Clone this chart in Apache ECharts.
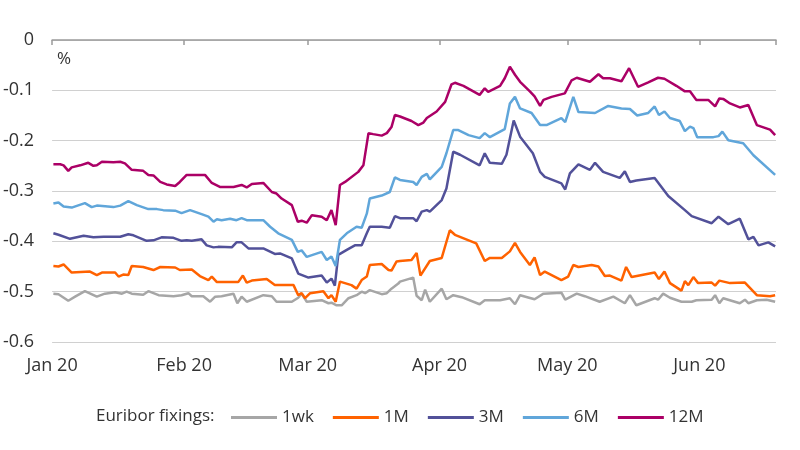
<!DOCTYPE html>
<html>
<head>
<meta charset="utf-8">
<script src="https://cdn.jsdelivr.net/npm/echarts@6/dist/echarts.min.js"></script>
<style>
  html, body { margin: 0; padding: 0; background: #fff; }
  #chart { width: 800px; height: 450px; }
</style>
</head>
<body>
<div id="chart"></div>
<script>
// Euribor fixings 2020, points are [day after 1 Jan 2020, % value]
const seriesNames = ["1wk", "1M", "3M", "6M", "12M"];
const seriesColors = ["#a6a6a6", "#ff6200", "#525199", "#60a6da", "#ab0066"];
const monthNames = ["Jan", "Feb", "Mar", "Apr", "May", "Jun", "Jul"];

const fix1wk = [
  [0.3,-0.504],[1.5,-0.505],[3.8,-0.518],[5.4,-0.51],[7.7,-0.499],[10.5,-0.51],[12.4,-0.504],[14.8,-0.501],
  [16.4,-0.504],[17.5,-0.5],[18.7,-0.504],[21.4,-0.506],[22.6,-0.499],[25.0,-0.507],[28.5,-0.509],[30.4,-0.507],
  [32.0,-0.503],[32.8,-0.509],[35.5,-0.509],[37.1,-0.52],[38.3,-0.51],[39.8,-0.509],[42.6,-0.504],[43.5,-0.523],
  [44.5,-0.51],[45.7,-0.52],[49.6,-0.507],[51.6,-0.509],[52.7,-0.52],[56.3,-0.52],[57.8,-0.512],[58.6,-0.504],
  [59.8,-0.52],[63.3,-0.517],[64.9,-0.523],[65.6,-0.522],[66.8,-0.527],[68.0,-0.527],[69.6,-0.513],[71.5,-0.507],
  [72.7,-0.5],[73.5,-0.503],[74.6,-0.497],[77.4,-0.505],[78.6,-0.503],[79.7,-0.494],[81.3,-0.484],[81.7,-0.48],
  [84.8,-0.472],[85.6,-0.508],[86.8,-0.517],[87.6,-0.496],[88.7,-0.52],[91.5,-0.494],[92.6,-0.515],[94.2,-0.507],
  [96.2,-0.511],[100.4,-0.525],[101.6,-0.517],[105.2,-0.517],[107.5,-0.513],[108.7,-0.525],[109.9,-0.507],[113.3,-0.515],
  [115.4,-0.504],[119.6,-0.502],[120.5,-0.516],[123.2,-0.504],[125.1,-0.509],[128.6,-0.52],[131.8,-0.51],[134.5,-0.523],
  [135.7,-0.507],[137.2,-0.527],[141.5,-0.513],[142.3,-0.516],[143.5,-0.504],[145.1,-0.512],[147.8,-0.52],[150.2,-0.52],
  [151.3,-0.517],[154.9,-0.516],[155.7,-0.507],[156.7,-0.523],[157.6,-0.513],[161.5,-0.523],[162.7,-0.516],[163.5,-0.523],
  [165.5,-0.517],[167.8,-0.516],[169.8,-0.52]
];

const fix1M = [
  [0.3,-0.449],[1.5,-0.45],[2.7,-0.446],[4.6,-0.462],[8.9,-0.46],[10.5,-0.467],[11.7,-0.462],[14.8,-0.462],
  [15.6,-0.47],[16.7,-0.466],[17.9,-0.467],[18.7,-0.449],[21.4,-0.451],[23.8,-0.457],[25.4,-0.451],[28.9,-0.452],
  [30.0,-0.457],[32.8,-0.456],[34.7,-0.469],[36.7,-0.477],[37.5,-0.47],[38.7,-0.481],[43.7,-0.481],[44.8,-0.468],
  [45.7,-0.482],[46.9,-0.478],[50.4,-0.475],[52.3,-0.487],[56.7,-0.487],[57.8,-0.507],[58.6,-0.503],[59.4,-0.513],
  [60.6,-0.503],[63.7,-0.499],[64.9,-0.513],[65.6,-0.507],[66.6,-0.52],[67.6,-0.48],[70.3,-0.487],[71.5,-0.494],
  [72.7,-0.477],[73.9,-0.47],[74.6,-0.447],[77.4,-0.445],[79.0,-0.457],[79.7,-0.458],[80.9,-0.44],[81.7,-0.439],
  [84.4,-0.437],[85.6,-0.423],[86.5,-0.468],[88.7,-0.439],[91.5,-0.433],[93.4,-0.378],[94.6,-0.387],[99.6,-0.404],
  [101.6,-0.439],[102.8,-0.433],[105.6,-0.433],[107.5,-0.42],[108.7,-0.403],[109.9,-0.421],[112.2,-0.447],[113.3,-0.432],
  [114.6,-0.467],[115.7,-0.46],[119.6,-0.477],[121.2,-0.47],[122.4,-0.447],[123.6,-0.451],[126.7,-0.447],[128.3,-0.45],
  [129.8,-0.469],[131.0,-0.468],[133.7,-0.478],[134.8,-0.451],[136.1,-0.471],[141.5,-0.462],[142.5,-0.475],[143.8,-0.46],
  [145.1,-0.483],[147.8,-0.498],[148.6,-0.479],[149.4,-0.487],[150.6,-0.471],[151.7,-0.483],[154.9,-0.482],[155.7,-0.488],
  [156.7,-0.478],[159.2,-0.483],[162.7,-0.482],[165.5,-0.507],[168.6,-0.509],[169.8,-0.507]
];

const fix3M = [
  [0.3,-0.384],[1.5,-0.387],[4.2,-0.395],[7.4,-0.389],[9.7,-0.392],[12.1,-0.391],[13.6,-0.391],[16.0,-0.391],
  [17.9,-0.386],[19.1,-0.388],[22.2,-0.399],[23.8,-0.398],[25.7,-0.392],[28.5,-0.393],[30.4,-0.399],[31.6,-0.398],
  [32.8,-0.399],[35.1,-0.396],[36.3,-0.408],[37.9,-0.412],[39.0,-0.411],[42.2,-0.412],[43.3,-0.402],[44.5,-0.402],
  [46.1,-0.414],[49.6,-0.414],[52.3,-0.425],[53.5,-0.424],[56.3,-0.434],[57.8,-0.464],[60.2,-0.472],[63.3,-0.468],
  [64.5,-0.482],[65.6,-0.474],[66.4,-0.488],[67.2,-0.427],[69.2,-0.417],[71.1,-0.408],[72.7,-0.408],[73.9,-0.384],
  [74.6,-0.371],[77.4,-0.371],[79.3,-0.373],[80.5,-0.35],[81.7,-0.354],[84.8,-0.354],[85.6,-0.36],[86.8,-0.341],
  [88.0,-0.338],[88.7,-0.341],[91.5,-0.318],[92.6,-0.295],[94.2,-0.222],[95.8,-0.228],[100.4,-0.249],[101.6,-0.225],
  [102.8,-0.244],[105.6,-0.246],[106.7,-0.228],[108.4,-0.16],[109.9,-0.192],[112.9,-0.225],[114.6,-0.262],[115.7,-0.272],
  [119.6,-0.285],[120.5,-0.297],[121.6,-0.265],[123.6,-0.247],[126.3,-0.258],[127.5,-0.244],[129.4,-0.262],[133.3,-0.274],
  [134.5,-0.261],[135.7,-0.282],[137.2,-0.279],[141.5,-0.274],[143.1,-0.292],[144.7,-0.31],[148.6,-0.338],[150.2,-0.35],
  [154.9,-0.364],[156.5,-0.351],[158.8,-0.366],[161.5,-0.355],[163.5,-0.396],[164.7,-0.391],[165.9,-0.408],[168.2,-0.402],
  [169.8,-0.41]
];

const fix6M = [
  [0.3,-0.325],[1.5,-0.323],[2.7,-0.331],[4.6,-0.333],[7.7,-0.324],[9.3,-0.332],[10.5,-0.329],[14.4,-0.332],
  [16.0,-0.329],[17.9,-0.32],[19.9,-0.328],[22.6,-0.336],[24.6,-0.336],[26.1,-0.338],[28.9,-0.339],[30.4,-0.344],
  [32.4,-0.338],[35.1,-0.346],[36.7,-0.351],[37.9,-0.361],[38.7,-0.356],[39.8,-0.358],[41.8,-0.355],[43.3,-0.358],
  [44.5,-0.354],[45.7,-0.358],[49.6,-0.358],[51.2,-0.371],[53.1,-0.384],[56.3,-0.397],[57.7,-0.421],[58.6,-0.418],
  [59.8,-0.431],[63.3,-0.421],[64.5,-0.437],[65.6,-0.43],[66.6,-0.449],[67.6,-0.397],[69.2,-0.384],[71.5,-0.371],
  [72.7,-0.373],[73.9,-0.345],[74.6,-0.315],[77.4,-0.309],[79.3,-0.302],[80.5,-0.273],[81.7,-0.278],[84.8,-0.282],
  [85.6,-0.288],[86.8,-0.272],[88.0,-0.266],[88.7,-0.277],[91.5,-0.252],[92.6,-0.225],[94.2,-0.179],[95.4,-0.179],
  [97.8,-0.189],[100.4,-0.195],[101.6,-0.185],[102.8,-0.193],[106.3,-0.177],[107.5,-0.126],[108.7,-0.113],[109.9,-0.136],
  [112.6,-0.145],[114.6,-0.169],[116.1,-0.169],[119.6,-0.155],[120.5,-0.163],[122.4,-0.113],[123.6,-0.143],[127.5,-0.145],
  [130.6,-0.131],[133.7,-0.136],[135.7,-0.137],[137.4,-0.15],[140.0,-0.145],[141.5,-0.132],[142.5,-0.149],[143.8,-0.142],
  [145.1,-0.155],[147.4,-0.161],[148.6,-0.181],[149.8,-0.172],[150.6,-0.175],[151.5,-0.193],[155.3,-0.193],[156.5,-0.191],
  [157.4,-0.182],[158.8,-0.199],[162.3,-0.205],[164.7,-0.229],[169.8,-0.268]
];

const fix12M = [
  [0.3,-0.247],[1.9,-0.247],[2.7,-0.249],[3.8,-0.26],[4.6,-0.253],[6.6,-0.249],[8.5,-0.244],[9.7,-0.25],
  [10.5,-0.249],[11.7,-0.242],[14.4,-0.243],[16.0,-0.242],[17.1,-0.245],[18.7,-0.258],[21.4,-0.26],[22.6,-0.268],
  [23.8,-0.269],[25.4,-0.282],[26.9,-0.287],[28.9,-0.29],[30.0,-0.282],[31.6,-0.268],[35.9,-0.268],[37.5,-0.284],
  [39.4,-0.292],[42.6,-0.292],[44.5,-0.288],[45.7,-0.293],[46.9,-0.286],[49.6,-0.284],[51.6,-0.302],[52.7,-0.305],
  [53.9,-0.315],[56.3,-0.328],[57.7,-0.361],[58.6,-0.359],[59.8,-0.363],[61.0,-0.348],[63.3,-0.351],[64.5,-0.358],
  [65.6,-0.338],[66.6,-0.368],[67.6,-0.288],[68.8,-0.282],[71.9,-0.262],[73.1,-0.249],[74.3,-0.185],[75.4,-0.187],
  [77.4,-0.19],[78.6,-0.185],[79.7,-0.173],[80.5,-0.149],[81.7,-0.152],[84.4,-0.161],[86.0,-0.169],[87.2,-0.164],
  [88.0,-0.155],[90.3,-0.142],[92.3,-0.123],[93.8,-0.088],[94.6,-0.085],[96.6,-0.091],[100.4,-0.109],[101.6,-0.096],
  [102.4,-0.103],[105.2,-0.091],[106.3,-0.076],[107.5,-0.053],[108.7,-0.069],[109.9,-0.083],[112.2,-0.102],[113.3,-0.112],
  [114.6,-0.131],[115.4,-0.119],[117.3,-0.113],[120.4,-0.106],[122.0,-0.08],[123.2,-0.075],[126.3,-0.083],[128.3,-0.068],
  [129.4,-0.076],[131.0,-0.076],[133.7,-0.082],[135.5,-0.056],[137.6,-0.093],[140.0,-0.084],[142.3,-0.075],[143.8,-0.077],
  [146.6,-0.091],[148.6,-0.102],[149.8,-0.102],[151.3,-0.119],[154.1,-0.119],[155.7,-0.132],[156.7,-0.116],[157.6,-0.117],
  [159.2,-0.126],[161.5,-0.134],[163.5,-0.129],[165.5,-0.169],[168.6,-0.178],[169.8,-0.189]
];

const allFixings = [fix1wk, fix1M, fix3M, fix6M, fix12M];

const DAY = 86400000;
const startTs = new Date(2020, 0, 1).getTime();
const endTs = startTs + 170 * DAY;
const toTime = pts => pts.map(p => [startTs + p[0] * DAY, p[1]]);

const fontFamily = "'Open Sans', 'Noto Sans', sans-serif";
const textColor = "#333";

const chart = echarts.init(document.getElementById("chart"));

const option = {
  animation: false,
  textStyle: { fontFamily: fontFamily },
  grid: { left: 52, right: 24, top: 40, bottom: 108 },
  title: {
    text: "Euribor fixings:",
    left: 91,
    top: 403,
    textStyle: { fontSize: 17, fontWeight: "normal", color: textColor, fontFamily: fontFamily }
  },
  legend: {
    data: seriesNames,
    left: 226,
    top: 404,
    icon: "rect",
    itemWidth: 46,
    itemHeight: 3,
    itemGap: 19,
    textStyle: { fontSize: 17, color: textColor, fontFamily: fontFamily }
  },
  graphic: [
    {
      type: "text",
      left: 57,
      top: 51,
      style: { text: "%", fontSize: 17, fill: textColor, fontFamily: fontFamily }
    }
  ],
  xAxis: [
    {
      type: "time",
      position: "bottom",
      min: startTs,
      max: endTs,
      minInterval: 28 * DAY,
      maxInterval: 31 * DAY,
      axisLine: { show: false },
      axisTick: { show: false },
      splitLine: { show: false },
      axisLabel: {
        margin: 15,
        fontSize: 18,
        color: textColor,
        hideOverlap: false,
        formatter: v => monthNames[new Date(v).getMonth()] + " 20"
      }
    },
    {
      type: "time",
      position: "top",
      min: startTs,
      max: endTs,
      minInterval: 28 * DAY,
      maxInterval: 31 * DAY,
      axisLine: { show: true, lineStyle: { color: "#9a9a9a", width: 1.5 } },
      axisTick: { show: true, inside: true, length: 5, lineStyle: { color: "#9a9a9a", width: 1.5 } },
      axisLabel: { show: false },
      splitLine: { show: false }
    }
  ],
  yAxis: {
    type: "value",
    min: -0.6,
    max: 0,
    interval: 0.1,
    axisLine: { show: false },
    axisTick: { show: false },
    splitLine: { lineStyle: { color: "#d0d0d0", width: 1 } },
    axisLabel: {
      margin: 18,
      fontSize: 18,
      color: textColor,
      formatter: v => (Math.abs(v) < 1e-9 ? "0" : String(Math.round(v * 10) / 10))
    }
  },
  series: seriesNames.map((name, i) => ({
    name: name,
    type: "line",
    xAxisIndex: 0,
    showSymbol: false,
    symbol: "none",
    color: seriesColors[i],
    lineStyle: { width: 2.5, color: seriesColors[i] },
    data: toTime(allFixings[i])
  }))
};

chart.setOption(option);
</script>
</body>
</html>
